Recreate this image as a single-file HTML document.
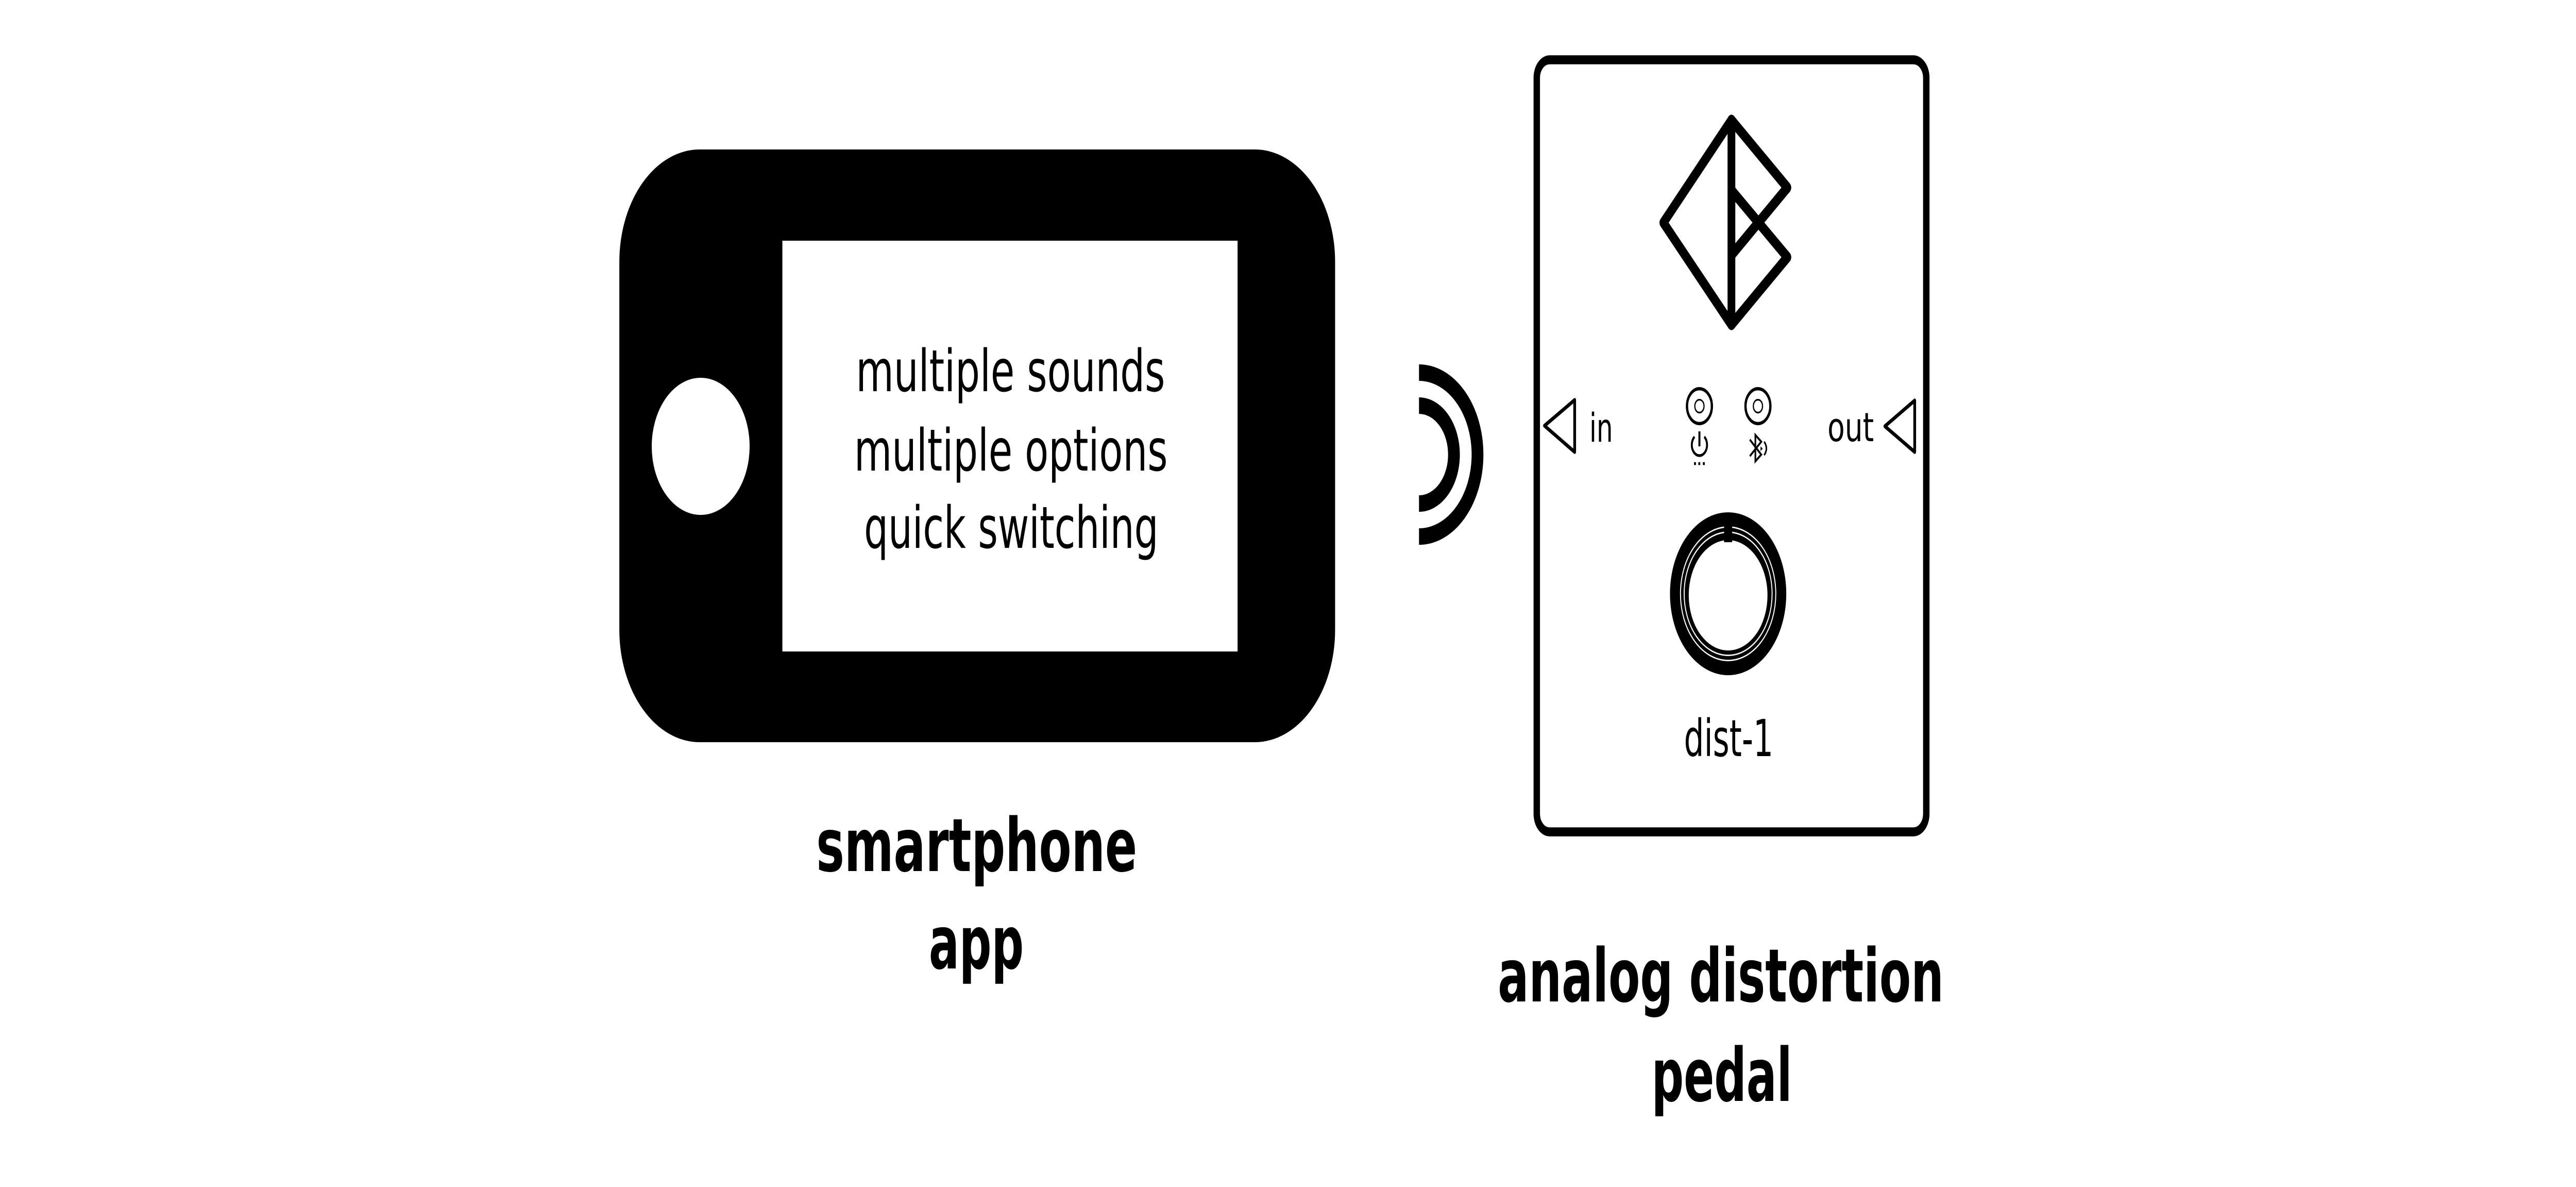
<!DOCTYPE html>
<html>
<head>
<meta charset="utf-8">
<style>
  html, body { margin: 0; padding: 0; background: #fff; width: 100%; height: 100%; overflow: hidden; }
  svg { display: block; position: absolute; left: 0; top: 0; width: 100vw; height: 100vh; }
  .reg { font-family: "DejaVu Sans", "Liberation Sans", sans-serif; font-weight: normal; }
  .bold { font-family: "DejaVu Sans", "Liberation Sans", sans-serif; font-weight: bold; }
</style>
</head>
<body>
<svg xmlns="http://www.w3.org/2000/svg" viewBox="0 0 7000 2303" preserveAspectRatio="none">
  <rect x="0" y="0" width="7000" height="2303" fill="#fff"/>

  <!-- Smartphone -->
  <rect x="1683" y="290" width="1945" height="1150" rx="218" ry="218" fill="#000"/>
  <rect x="2126" y="467" width="1237" height="797" fill="#fff"/>
  <circle cx="1904" cy="866" r="133" fill="#fff"/>

  <text class="reg" x="2326" y="759" font-size="112" textLength="840" lengthAdjust="spacingAndGlyphs">multiple sounds</text>
  <text class="reg" x="2321" y="913" font-size="112" textLength="852" lengthAdjust="spacingAndGlyphs">multiple options</text>
  <text class="reg" x="2348" y="1063" font-size="112" textLength="800" lengthAdjust="spacingAndGlyphs">quick switching</text>

  <text class="bold" x="2218" y="1690" font-size="143" textLength="872" lengthAdjust="spacingAndGlyphs">smartphone</text>
  <text class="bold" x="2524" y="1879" font-size="143" textLength="258" lengthAdjust="spacingAndGlyphs">app</text>

  <!-- Wireless arcs -->
  <path d="M3856 787 A95 95 0 0 1 3856 977" fill="none" stroke="#000" stroke-width="32"/>
  <path d="M3856 723 A159 159 0 0 1 3856 1041" fill="none" stroke="#000" stroke-width="32"/>

  <!-- Pedal body -->
  <rect x="4176" y="116" width="1058.5" height="1498" rx="35" ry="35" fill="none" stroke="#000" stroke-width="17.5"/>

  <!-- Logo -->
  <g fill="none" stroke="#000" stroke-width="21" stroke-linejoin="round" stroke-linecap="round">
    <polygon points="4705,233 4520,432 4705,630"/>
    <polyline points="4705,233 4857,364 4705,495" stroke-linecap="butt"/>
    <polyline points="4705,369 4857,499 4705,630" stroke-linecap="butt"/>
  </g>

  <!-- in / out jacks -->
  <polygon points="4197,826 4279,776 4279,877" fill="none" stroke="#000" stroke-width="7.5" stroke-linejoin="round"/>
  <polygon points="5122,827 5203,777 5203,877" fill="none" stroke="#000" stroke-width="7.5" stroke-linejoin="round"/>
  <text class="reg" x="4319" y="857" font-size="77" textLength="64" lengthAdjust="spacingAndGlyphs">in</text>
  <text class="reg" x="4966" y="856" font-size="78" textLength="126" lengthAdjust="spacingAndGlyphs">out</text>

  <!-- LEDs -->
  <circle cx="4618" cy="788" r="33.8" fill="none" stroke="#000" stroke-width="6.3"/>
  <circle cx="4618" cy="788" r="12.5" fill="none" stroke="#000" stroke-width="3.2"/>
  <circle cx="4777" cy="788" r="33.8" fill="none" stroke="#000" stroke-width="6.3"/>
  <circle cx="4777" cy="788" r="12.5" fill="none" stroke="#000" stroke-width="3.2"/>

  <!-- Power icon -->
  <path d="M4604.7 847.4 A20.7 20.7 0 1 0 4631.3 847.4" fill="none" stroke="#000" stroke-width="5.3"/>
  <line x1="4618" y1="837" x2="4618" y2="866" stroke="#000" stroke-width="5.5"/>
  <rect x="4603.3" y="896.7" width="5.3" height="5.6" fill="#000"/>
  <rect x="4615" y="896.7" width="5.3" height="5.6" fill="#000"/>
  <rect x="4627.3" y="896.7" width="5.3" height="5.6" fill="#000"/>

  <!-- Bluetooth icon -->
  <path d="M4755 853 L4786 882 L4770 895 L4770 844 L4786 857 L4755 885" fill="none" stroke="#000" stroke-width="4.5" stroke-linejoin="miter"/>
  <path d="M4794 857 Q4806 870 4794 883" fill="none" stroke="#000" stroke-width="4"/>
  <polygon points="4784,866 4790,870.5 4784,875" fill="#000"/>

  <!-- Knob -->
  <circle cx="4696" cy="1152" r="158" fill="#000"/>
  <circle cx="4696" cy="1152" r="129.5" fill="none" stroke="#fff" stroke-width="2.7"/>
  <circle cx="4696" cy="1152" r="119.5" fill="none" stroke="#fff" stroke-width="2.7"/>
  <circle cx="4696" cy="1155" r="107" fill="#fff"/>
  <rect x="4685" y="1021" width="22" height="31" fill="#000"/>

  <text class="reg" x="4576" y="1467" font-size="99" textLength="243" lengthAdjust="spacingAndGlyphs">dist-1</text>

  <!-- Pedal label -->
  <text class="bold" x="4070" y="1943" font-size="143" textLength="1212" lengthAdjust="spacingAndGlyphs">analog distortion</text>
  <text class="bold" x="4488" y="2136" font-size="143" textLength="382" lengthAdjust="spacingAndGlyphs">pedal</text>
</svg>
</body>
</html>
